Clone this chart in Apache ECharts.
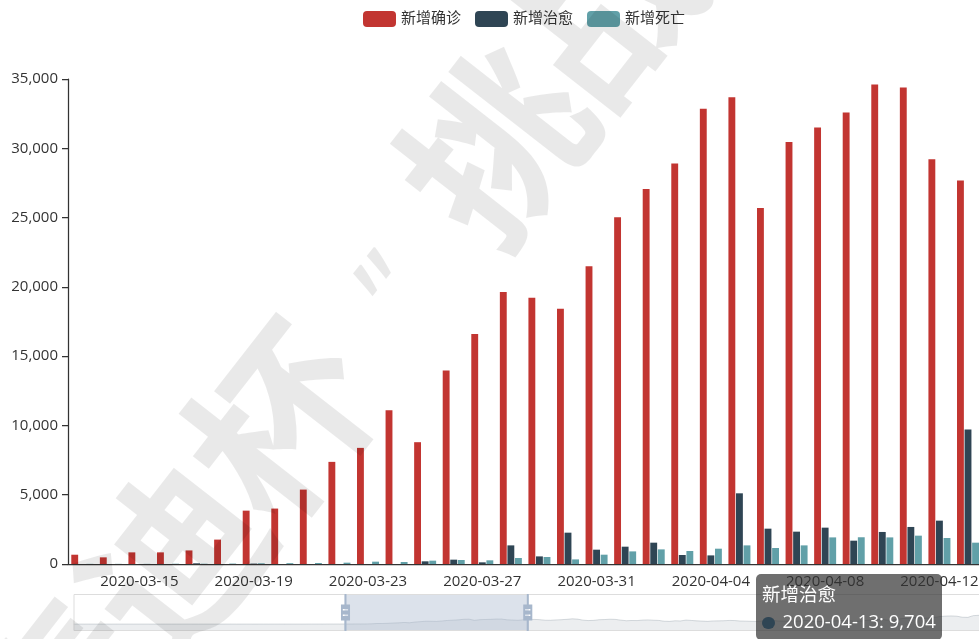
<!DOCTYPE html>
<html>
<head>
<meta charset="utf-8">
<title>新增确诊 / 新增治愈 / 新增死亡</title>
<style>
  html, body { margin: 0; padding: 0; background: #fff; overflow: hidden; }
  #main { width: 979px; height: 639px; }
</style>
<script src="https://cdn.jsdelivr.net/npm/echarts@6/dist/echarts.min.js"></script>
</head>
<body>
<div id="main"></div>
<script>
// ---- data ---------------------------------------------------------------
// daily records starting 2020-01-23
const firstDate = [2020, 0, 23];
const dayCount = 295;
const dates = [];
for (let i = 0; i < dayCount; i++) {
  dates.push(new Date(Date.UTC(firstDate[0], firstDate[1], firstDate[2] + i)).toISOString().slice(0, 10));
}

// 新增确诊, one value per day
const confirmedJanFeb = [
  0, 1, 0, 2, 0, 0, 0, 0, 1,
  1, 0, 3, 0, 1, 0, 0, 0, 0, 0, 0, 0, 1, 0, 0, 0, 0, 0, 0, 0, 2, 0, 0, 6, 0, 0, 1, 0, 6
];
const confirmedMarEarly = [8, 23, 20, 31, 68, 45, 140, 116, 65, 376, 322, 382];
const confirmedMain = [
  670, 480, 840, 840, 980, 1760, 3850, 4000, 5370, 7370, 8380, 11100, 8790, 13970, 16600, 19620,
  19220, 18420, 21480, 25020, 27070, 28900, 32850, 33690, 25690, 30460, 31500, 32590, 34610, 34390,
  29210, 27670
];
const confirmedAprMay = [
  26000, 29500, 31000, 32000, 30500, 26500, 26000, 28500, 30000, 32500, 36000, 34000, 27000, 24000, 25500, 30000, 31000,
  33500, 32000, 27000, 23000, 24500, 24000, 27500, 28500, 26500, 25000, 19500, 18500, 22500, 21500, 27500, 25000,
  22000, 20500, 18500, 21500, 22000, 23000, 25000, 24000, 21000, 20000, 19000, 18000, 21500, 23500, 24500
];
const confirmedJunJul = [
  21500, 20500, 21000, 20500, 21000, 25000, 23000, 18500, 17500, 19000, 21000, 23000, 25000, 25500, 19500,
  20500, 24000, 27500, 31500, 33000, 27500, 28000, 33500, 38000, 40000, 45500, 43500, 40000, 42000, 47000,
  52000, 55000, 56000, 54000, 47000, 46000, 58000, 60000, 60500, 66000, 61000, 59000, 58000, 66000, 67000, 76000,
  71000, 63000, 64000, 61000, 66000, 70000, 71000, 72000, 66000, 55000, 56000, 64000, 65000, 68000, 67000
];
const confirmedAugNov = [
  58000, 48000, 46000, 52000, 54000, 55000, 62000, 55000, 47000, 48000, 51000, 55000, 52000, 63000, 51000, 42000,
  36000, 43000, 47000, 44000, 47000, 40000, 35000, 34000, 39000, 43000, 45000, 47000, 43000, 35000, 38000,
  42000, 39000, 44000, 49000, 43000, 33000, 24000, 26000, 34000, 36000, 47000, 40000, 35000, 34000, 38000,
  38000, 44000, 48000, 41000, 36000, 52000, 38000, 38000, 45000, 56000, 44000, 36000, 33000, 42000, 40000,
  46000, 55000, 50000, 35000, 39000, 42000, 51000, 59000, 59000, 50000, 45000, 41000, 51000, 59000, 65000, 70000,
  55000, 48000, 58000, 61000, 63000, 76000, 84000, 84000, 61000, 73000, 74000, 79000, 91000, 100000, 82000,
  81000, 90000, 93000, 106000, 121000, 131000, 128000, 111000, 120000, 135000, 146000, 159000
];
const confirmed = confirmedJanFeb.concat(confirmedMarEarly, confirmedMain, confirmedAprMay, confirmedJunJul, confirmedAugNov);

// 新增治愈 and 新增死亡 from 2020-03-13 to 2020-04-13
const detailStart = '2020-03-13';
const recovered = [
  0, 0, 0, 0, 50, 0, 30, 0, 0, 0, 0, 0, 193, 313, 120, 1344,
  549, 2261, 1033, 1250, 1539, 650, 621, 5101, 2550, 2334, 2623, 1683, 2312, 2673,
  3128, 9704
];
const deaths = [
  10, 10, 10, 20, 20, 30, 50, 60, 72, 96, 168, 145, 241, 289, 265, 434,
  506, 332, 672, 910, 1055, 939, 1105, 1344, 1156, 1344, 1920, 1930, 1920, 2045,
  1878, 1539
];

const seriesNames = ['新增确诊', '新增治愈', '新增死亡'];
const colors = ['#c23531', '#2f4554', '#61a0a8'];
const windowStart = '2020-03-13';
const windowEnd = '2020-04-16';
const watermarkChars = ['“', '泰', '迪', '杯', '”', '挑', '战', '赛'];

// ---- chart --------------------------------------------------------------
const FONT = "'Open Sans', 'Noto Sans CJK SC', sans-serif";
const d0 = dates.indexOf(detailStart);
const pairs = (vals) => vals.map((v, i) => [dates[d0 + i], v]);
const fmt = (n) => String(n).replace(/\B(?=(\d{3})+(?!\d))/g, ',');

// slider track: same pixel step per day as the window it shows
const sliderLeft = 71;
const sliderStep = 5.42;
const sliderRight = 979 - sliderLeft - sliderStep * (dayCount - 1);

// watermark laid out glyph by glyph along a slanted line
const wmAngle = 52 * Math.PI / 180;
const wmStep = 175;
const wmAnchor = [496, 145];   // centre of 挑
const watermark = watermarkChars.map((ch, i) => {
  const k = i - 5;
  const isQuote = ch === '“' || ch === '”';
  const drop = isQuote ? 18 : 0;
  return {
    type: 'text',
    silent: true,
    z: 100,
    x: wmAnchor[0] + k * wmStep * Math.cos(wmAngle) + drop * Math.sin(wmAngle),
    y: wmAnchor[1] - k * wmStep * Math.sin(wmAngle) + drop * Math.cos(wmAngle),
    rotation: wmAngle,
    style: {
      text: ch,
      fontSize: isQuote ? 120 : 180,
      fontWeight: isQuote ? 'normal' : 'bold',
      fontFamily: isQuote ? "'Noto Sans'" : "'Noto Sans CJK SC'",
      fill: 'rgba(0,0,0,0.085)',
      textAlign: 'center',
      verticalAlign: 'middle'
    }
  };
});

const chart = echarts.init(document.getElementById('main'));
chart.setOption({
  animation: false,
  color: colors,
  textStyle: { fontFamily: FONT },
  legend: {
    left: 358,
    top: 6,
    itemWidth: 33,
    itemHeight: 16,
    itemGap: 14,
    textStyle: { fontSize: 15, color: '#333', fontFamily: FONT },
    data: seriesNames
  },
  grid: { left: 68, right: -89, top: 79, bottom: 75, outerBoundsMode: 'none', containLabel: false },
  tooltip: {
    trigger: 'item',
    triggerOn: 'none',
    alwaysShowContent: true,
    position: [756, 574],
    backgroundColor: 'rgba(50,50,50,0.7)',
    borderWidth: 0,
    padding: 6,
    shadowBlur: 0,
    shadowOffsetX: 0,
    shadowOffsetY: 0,
    shadowColor: 'transparent',
    extraCssText: 'border-radius:5px;box-shadow:none;',
    textStyle: { color: '#fff', fontSize: 18.5, fontFamily: FONT },
    formatter: function (p) {
      const name = Array.isArray(p.value) ? p.value[0] : p.name;
      const val = Array.isArray(p.value) ? p.value[1] : p.value;
      return '<div style="font-size:18.5px;line-height:27px;color:#fff;font-family:' + FONT.replace(/'/g, '&quot;') + ';">' +
        p.seriesName + '<br/>' +
        '<span style="display:inline-block;width:12.5px;height:12.5px;border-radius:50%;margin-right:8px;vertical-align:-1px;background:' +
        p.color + '"></span>' + name + ': ' + fmt(val) + '</div>';
    }
  },
  xAxis: {
    type: 'category',
    data: dates,
    axisLine: { lineStyle: { color: '#333', width: 1.25 } },
    axisTick: { length: 6, lineStyle: { color: '#333', width: 1.25 } },
    axisLabel: { interval: 3, fontSize: 15, color: '#333', margin: 10, fontFamily: FONT }
  },
  yAxis: {
    type: 'value',
    min: 0,
    max: 35000,
    interval: 5000,
    axisLine: { show: true, lineStyle: { color: '#333', width: 1.25 } },
    axisTick: { show: true, length: 6, lineStyle: { color: '#333', width: 1.25 } },
    axisLabel: { fontSize: 15, color: '#333', margin: 10, fontFamily: FONT },
    splitLine: { show: false }
  },
  dataZoom: [{
    type: 'slider',
    xAxisIndex: 0,
    startValue: windowStart,
    endValue: windowEnd,
    left: sliderLeft,
    right: sliderRight,
    bottom: 8,
    height: 37,
    borderColor: '#ddd',
    borderRadius: 0,
    backgroundColor: 'rgba(47,69,84,0)',
    fillerColor: 'rgba(167,183,204,0.4)',
    handleIcon: 'path://M8.2,13.6V3.9H6.3v9.7H3.1v14.9h3.3v9.7h1.8v-9.7h3.3V13.6H8.2z M9.7,24.4H4.8v-1.4h4.9V24.4z M9.7,19.1H4.8v-1.4h4.9V19.1z',
    handleSize: '100%',
    handleStyle: { color: '#a7b7cc', borderWidth: 0 },
    moveHandleSize: 0,
    brushSelect: false,
    showDetail: false,
    dataBackground: {
      lineStyle: { color: '#2f4554', width: 0.6, opacity: 0.3 },
      areaStyle: { color: 'rgba(47,69,84,0.3)', opacity: 0.3 }
    },
    selectedDataBackground: {
      lineStyle: { color: '#2f4554', width: 0.6, opacity: 0.3 },
      areaStyle: { color: 'rgba(47,69,84,0.3)', opacity: 0.3 }
    }
  }],
  series: [
    { name: seriesNames[0], type: 'bar', data: confirmed },
    { name: seriesNames[1], type: 'bar', data: pairs(recovered) },
    { name: seriesNames[2], type: 'bar', data: pairs(deaths) }
  ],
  graphic: watermark
});

chart.dispatchAction({ type: 'showTip', seriesIndex: 1, dataIndex: recovered.length - 1 });
</script>
</body>
</html>
